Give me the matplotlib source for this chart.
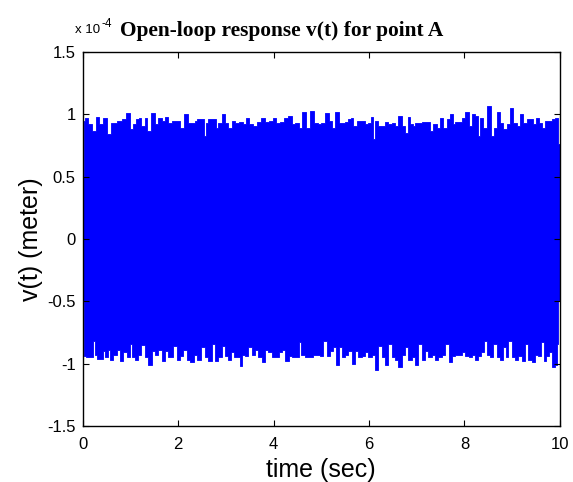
import matplotlib
matplotlib.use("Agg")
import matplotlib.pyplot as plt
from matplotlib.ticker import FuncFormatter

# peak values of the oscillation (units of 1e-4 m)
t_upper = [0.03, 0.07, 0.16, 0.25, 0.30, 0.40, 0.47, 0.56, 0.65, 0.79, 0.86, 0.96,
           1.03, 1.08, 1.17, 1.20, 1.27, 1.33, 1.38, 1.47, 1.55, 1.62, 1.71, 1.76,
           1.83, 1.90, 2.01, 2.08, 2.18, 2.25, 2.32, 2.38, 2.43, 2.50, 2.57, 2.60,
           2.67, 2.77, 2.81, 2.88, 2.96, 3.02, 3.09, 3.16, 3.23, 3.33, 3.40, 3.45,
           3.54, 3.61, 3.68, 3.79, 3.86, 3.96, 4.02, 4.10, 4.17, 4.26, 4.35, 4.42,
           4.50, 4.55, 4.65, 4.73, 4.80, 4.90, 4.97, 5.04, 5.13, 5.18, 5.25, 5.34,
           5.39, 5.46, 5.52, 5.59, 5.64, 5.71, 5.80, 5.88, 5.95, 6.01, 6.06, 6.09,
           6.16, 6.23, 6.30, 6.37, 6.44, 6.51, 6.58, 6.65, 6.72, 6.79, 6.84, 6.89,
           6.94, 7.00, 7.07, 7.14, 7.21, 7.26, 7.31, 7.38, 7.45, 7.52, 7.59, 7.66,
           7.73, 7.78, 7.84, 7.91, 7.98, 8.05, 8.12, 8.18, 8.25, 8.31, 8.36, 8.43,
           8.53, 8.60, 8.64, 8.71, 8.78, 8.85, 8.92, 8.99, 9.06, 9.13, 9.20, 9.27,
           9.34, 9.41, 9.48, 9.53, 9.58, 9.65, 9.72, 9.79, 9.86, 9.93, 9.99]
v_upper = [0.95, 0.97, 0.92, 0.87, 0.98, 0.92, 0.97, 0.84, 0.93, 0.95, 0.96, 1.01,
           0.88, 0.92, 0.96, 0.97, 0.91, 0.97, 0.87, 1.01, 0.92, 0.97, 0.95, 0.98,
           0.93, 0.95, 0.95, 0.89, 1.00, 0.93, 0.93, 0.95, 0.96, 0.96, 0.83, 0.93,
           0.96, 0.96, 0.89, 0.93, 1.00, 0.93, 0.89, 0.95, 0.93, 0.94, 0.92, 0.97,
           0.92, 0.91, 0.94, 0.97, 0.94, 0.95, 0.97, 0.93, 0.94, 0.97, 0.99, 0.92,
           0.93, 0.89, 1.02, 0.89, 1.03, 0.93, 0.92, 0.93, 1.01, 0.95, 0.89, 1.02,
           0.93, 0.93, 0.94, 0.96, 0.97, 0.91, 0.95, 0.95, 0.92, 0.93, 0.98, 0.80,
           0.95, 0.91, 0.91, 0.94, 0.92, 0.93, 0.91, 0.99, 0.91, 0.85, 0.98, 0.92,
           0.91, 0.93, 0.93, 0.94, 0.94, 0.94, 0.87, 0.92, 0.89, 0.97, 0.89, 0.96,
           1.00, 0.92, 0.94, 0.94, 0.97, 1.02, 0.91, 1.00, 0.99, 0.83, 0.97, 0.89,
           1.07, 0.83, 0.89, 1.02, 0.93, 0.88, 0.92, 1.05, 0.93, 0.91, 1.00, 0.93,
           0.96, 0.96, 0.92, 0.97, 0.93, 0.89, 0.95, 0.95, 0.96, 0.97, 0.76]

t_lower = [0.03, 0.12, 0.19, 0.23, 0.28, 0.33, 0.40, 0.44, 0.51, 0.56, 0.61, 0.68,
           0.75, 0.82, 0.89, 0.96, 1.02, 1.06, 1.13, 1.20, 1.27, 1.33, 1.41, 1.48,
           1.55, 1.62, 1.69, 1.76, 1.83, 1.94, 2.01, 2.08, 2.15, 2.22, 2.29, 2.36,
           2.43, 2.53, 2.60, 2.67, 2.74, 2.81, 2.88, 2.95, 3.02, 3.09, 3.14, 3.19,
           3.26, 3.32, 3.37, 3.44, 3.51, 3.58, 3.65, 3.72, 3.79, 3.86, 3.93, 4.00,
           4.07, 4.14, 4.21, 4.28, 4.35, 4.42, 4.50, 4.55, 4.62, 4.69, 4.80, 4.87,
           4.94, 5.01, 5.08, 5.15, 5.22, 5.29, 5.34, 5.39, 5.46, 5.53, 5.60, 5.67,
           5.74, 5.81, 5.88, 5.95, 6.02, 6.09, 6.16, 6.23, 6.30, 6.37, 6.44, 6.51,
           6.58, 6.65, 6.72, 6.79, 6.86, 6.93, 7.00, 7.07, 7.14, 7.21, 7.28, 7.35,
           7.42, 7.49, 7.56, 7.63, 7.70, 7.77, 7.84, 7.91, 7.98, 8.05, 8.12, 8.18,
           8.25, 8.32, 8.39, 8.44, 8.50, 8.57, 8.64, 8.71, 8.78, 8.85, 8.88, 8.95,
           9.02, 9.09, 9.16, 9.23, 9.30, 9.37, 9.44, 9.51, 9.58, 9.63, 9.68, 9.73,
           9.79, 9.86, 9.91, 9.96]
v_lower = [-0.94, -0.95, -0.95, -0.82, -0.93, -0.96, -0.96, -0.90, -0.95, -0.89, -0.97, -0.93,
           -0.89, -0.98, -0.91, -0.95, -0.84, -0.95, -0.97, -0.93, -0.85, -0.95, -1.01, -0.90,
           -0.93, -0.89, -0.98, -0.90, -0.95, -0.86, -0.97, -0.94, -0.89, -0.97, -0.99, -0.93,
           -0.97, -0.87, -0.95, -0.98, -0.84, -0.98, -0.95, -0.86, -0.94, -0.97, -0.91, -0.95,
           -0.95, -1.02, -0.93, -0.94, -0.87, -0.93, -0.89, -0.95, -0.99, -0.89, -0.91, -0.95,
           -0.95, -0.91, -0.89, -0.98, -0.94, -0.95, -0.95, -0.83, -0.93, -0.95, -0.95, -0.93,
           -0.93, -0.94, -0.82, -0.94, -0.90, -0.87, -1.01, -0.87, -0.95, -0.93, -0.90, -1.00,
           -0.90, -0.95, -0.94, -0.91, -0.95, -0.93, -1.05, -0.86, -0.95, -1.01, -0.84, -0.95,
           -0.97, -1.03, -0.93, -0.87, -0.97, -0.95, -1.01, -0.84, -0.97, -0.90, -0.95, -0.93,
           -0.97, -0.95, -0.93, -0.84, -0.99, -0.94, -0.93, -0.93, -0.91, -0.94, -0.95, -0.93,
           -0.97, -0.94, -0.91, -0.82, -0.93, -0.95, -0.84, -0.95, -0.97, -0.87, -0.95, -0.82,
           -0.95, -0.97, -0.94, -0.98, -0.84, -0.97, -0.99, -0.93, -0.94, -0.83, -0.98, -0.94,
           -0.91, -1.03, -1.01, -0.84]

x_ticks = [0, 2, 4, 6, 8, 10]
y_ticks = [-1.5, -1, -0.5, 0, 0.5, 1, 1.5]

fig = plt.figure(figsize=(5.73, 4.82), dpi=100)
ax = fig.add_axes([0.144, 0.1162, 0.8333, 0.7759])

blue = (0, 0, 1)
# the two halves overlap across the middle so no seam shows at zero
ax.fill_between(t_upper, -0.5, v_upper, step="mid", color=blue, linewidth=0.6)
ax.fill_between(t_lower, v_lower, 0.5, step="mid", color=blue, linewidth=0.6)

ax.set_xlim(0, 10)
ax.set_ylim(-1.5, 1.5)
ax.set_xticks(x_ticks)
ax.set_yticks(y_ticks)
ax.yaxis.set_major_formatter(FuncFormatter(lambda v, p: f"{v:g}"))
ax.tick_params(axis="both", which="both", direction="in", top=True, right=True,
               length=4, width=0.8, labelsize=12)
ax.tick_params(axis="x", pad=8)
ax.tick_params(axis="y", pad=5)
for lab in ax.get_xticklabels() + ax.get_yticklabels():
    lab.set_family("Liberation Sans")
for sp in ax.spines.values():
    sp.set_linewidth(1.0)

ax.set_xlabel("time (sec)", fontsize=18, family="Liberation Sans", labelpad=4)
ax.set_ylabel("v(t) (meter)", fontsize=18, family="Liberation Sans", labelpad=3)

ax.text(0.416, 1.043, "Open-loop response v(t) for point A", transform=ax.transAxes,
        ha="center", va="baseline", fontsize=15.4, fontweight="bold",
        family="Liberation Serif")
ax.text(-0.016, 1.051, "x 10", transform=ax.transAxes, ha="left", va="baseline",
        fontsize=9.5, family="Liberation Sans")
ax.text(0.039, 1.068, "-4", transform=ax.transAxes, ha="left", va="baseline",
        fontsize=8.5, family="Liberation Sans")

fig.savefig("out.png", dpi=100)
